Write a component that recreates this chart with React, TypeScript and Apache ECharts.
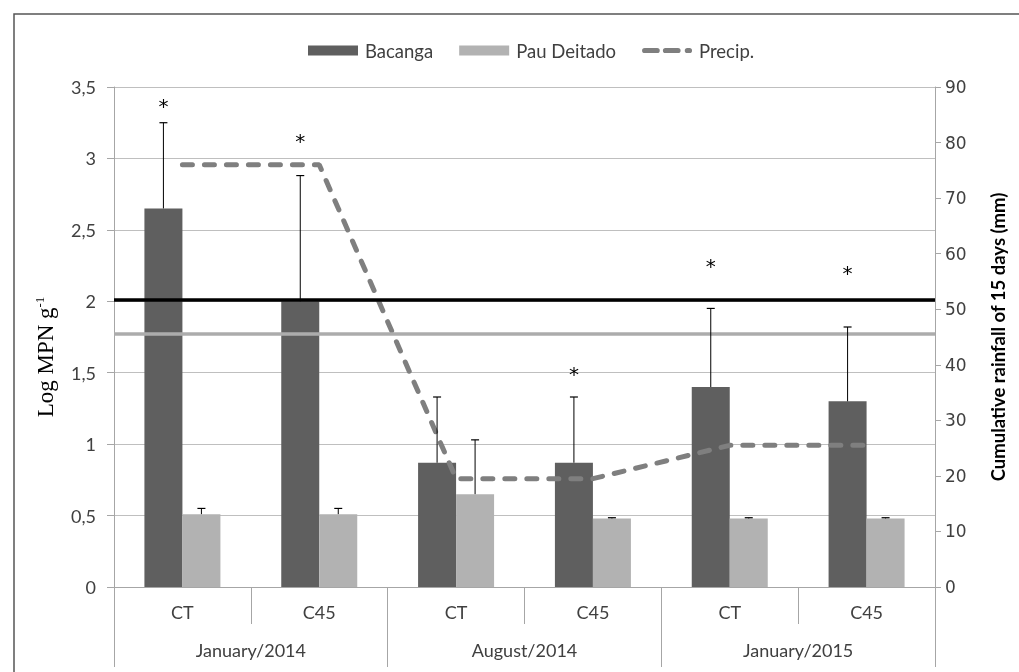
import React, { useEffect, useRef } from "react";
import * as echarts from "echarts";

const categories = ["CT", "C45", "CT", "C45", "CT", "C45"];
const periods = ["January/2014", "August/2014", "January/2015"];
const bacanga = [2.65, 2.0, 0.87, 0.87, 1.4, 1.3];
const bacangaErrTop = [3.25, 2.88, 1.33, 1.33, 1.95, 1.82];
const pauDeitado = [0.51, 0.51, 0.65, 0.48, 0.48, 0.48];
const pauErrTop = [0.55, 0.55, 1.03, 0.485, 0.485, 0.485];
const precip = [76, 76, 19.5, 19.5, 25.5, 25.5];
const significance: (number | null)[] = [3.37, 3.12, null, 1.49, 2.25, 2.2];
const bacangaRef = 2.01;
const pauRef = 1.77;
const leftTicks = { min: 0, max: 3.5, interval: 0.5 };
const rightTicks = { min: 0, max: 90, interval: 10 };

const BAR_W = 38;
const FONT = "Lato";
const DASH_ICON =
  "path://M2.5,0H14.5A2.5,2.5 0 0 1 14.5,5H2.5A2.5,2.5 0 0 1 2.5,0Z" +
  "M22.5,0H34.5A2.5,2.5 0 0 1 34.5,5H22.5A2.5,2.5 0 0 1 22.5,0Z" +
  "M43.5,0H45.5A2.5,2.5 0 0 1 45.5,5H43.5A2.5,2.5 0 0 1 43.5,0Z";

export default function App() {
  const ref = useRef<HTMLDivElement>(null);
  useEffect(() => {
    const chart = echarts.init(ref.current!, null, { renderer: "svg" });

    const errSeries = (name: string, vals: number[], tops: number[], side: number) => ({
      type: "custom",
      name,
      xAxisIndex: 0,
      yAxisIndex: 0,
      z: 5,
      data: vals.map((v, i) => [i, v, tops[i]]),
      renderItem: (params: any, api: any) => {
        const i = api.value(0);
        const p0 = api.coord([i, api.value(1)]);
        const p1 = api.coord([i, api.value(2)]);
        const x = p0[0] + side * BAR_W / 2;
        return {
          type: "group",
          children: [
            { type: "line", shape: { x1: x, y1: p0[1], x2: x, y2: p1[1] }, style: { stroke: "#000", lineWidth: 1 } },
            { type: "line", shape: { x1: x - 4, y1: p1[1], x2: x + 4, y2: p1[1] }, style: { stroke: "#000", lineWidth: 1.2 } },
          ],
        };
      },
    });

    chart.setOption({
      animation: false,
      graphic: [
        {
          type: "rect",
          shape: { x: 14, y: 14, width: 1040, height: 700 },
          style: { fill: "none", stroke: "#555", lineWidth: 1.5 },
          silent: true,
        },
        {
          type: "text",
          x: 45,
          y: 357,
          rotation: Math.PI / 2,
          style: {
            text: "{a|Log MPN g}{b|-1}",
            align: "center",
            verticalAlign: "middle",
            rich: {
              a: { fontFamily: "Liberation Serif", fontSize: 23, fill: "#000" },
              b: { fontFamily: "Liberation Serif", fontSize: 13, fill: "#000", verticalAlign: "top", padding: [0, 0, 12, 0] },
            },
          },
        },
      ],
      legend: {
        top: 36,
        left: 303,
        itemWidth: 50,
        itemHeight: 10,
        itemGap: 26,
        textStyle: { fontFamily: FONT, fontSize: 18.5, color: "#404040", padding: [0, 0, 0, 2] },
        data: [
          { name: "Bacanga", icon: "rect" },
          { name: "Pau Deitado", icon: "rect" },
          { name: "Precip.", icon: DASH_ICON, itemStyle: { color: "#7f7f7f", borderWidth: 0 } },
        ],
      },
      grid: { left: 114, right: 84, top: 87, bottom: 85, containLabel: false },
      xAxis: [
        {
          type: "category",
          data: categories,
          position: "bottom",
          axisLine: { lineStyle: { color: "#a6a6a6" } },
          axisTick: { show: true, length: 37, interval: 0, lineStyle: { color: "#a6a6a6" } },
          axisLabel: { interval: 0, margin: 16, fontFamily: FONT, fontSize: 18, color: "#404040" },
        },
        {
          type: "category",
          data: periods,
          position: "bottom",
          offset: 0,
          axisLine: { show: false },
          axisTick: { show: true, length: 80, interval: 0, lineStyle: { color: "#a6a6a6" } },
          axisLabel: { interval: 0, margin: 54, fontFamily: FONT, fontSize: 18, color: "#404040" },
        },
      ],
      yAxis: [
        {
          type: "value",
          ...leftTicks,
          position: "left",
          axisLine: { show: true, lineStyle: { color: "#a6a6a6" } },
          axisTick: { show: true, length: 7, lineStyle: { color: "#a6a6a6" } },
          splitLine: { show: true, lineStyle: { color: "#bfbfbf" } },
          axisLabel: {
            fontFamily: FONT,
            fontSize: 18,
            color: "#404040",
            margin: 18,
            formatter: (v: number) => String(v).replace(".", ","),
          },
        },
        {
          type: "value",
          ...rightTicks,
          position: "right",
          axisLine: { show: true, lineStyle: { color: "#a6a6a6" } },
          axisTick: { show: true, length: 6, lineStyle: { color: "#a6a6a6" } },
          splitLine: { show: false },
          axisLabel: { fontFamily: "DejaVu Sans", fontSize: 17, color: "#404040", margin: 10 },
          name: "Cumulative rainfall of 15 days (mm)",
          nameLocation: "middle",
          nameRotate: 90,
          nameGap: 53,
          nameTextStyle: { fontFamily: FONT, fontSize: 18.5, fontWeight: "bold", color: "#000" },
        },
      ],
      series: [
        {
          type: "bar",
          name: "Bacanga",
          data: bacanga,
          barWidth: BAR_W,
          barGap: "0%",
          itemStyle: { color: "#5f5f5f" },
          markLine: {
            silent: true,
            symbol: "none",
            label: { show: false },
            lineStyle: { color: "#000", width: 3.5, type: "solid" },
            data: [{ yAxis: bacangaRef }],
          },
        },
        {
          type: "bar",
          name: "Pau Deitado",
          data: pauDeitado,
          barWidth: BAR_W,
          barGap: "0%",
          itemStyle: { color: "#b2b2b2" },
          markLine: {
            silent: true,
            symbol: "none",
            label: { show: false },
            lineStyle: { color: "#acacac", width: 3.5, type: "solid" },
            data: [{ yAxis: pauRef }],
          },
        },
        {
          type: "line",
          name: "Precip.",
          yAxisIndex: 1,
          data: precip,
          symbol: "none",
          z: 4,
          lineStyle: { color: "#7f7f7f", width: 5, type: [10, 12], cap: "round" },
          itemStyle: { color: "#7f7f7f" },
        },
        errSeries("errB", bacanga, bacangaErrTop, -1),
        errSeries("errP", pauDeitado, pauErrTop, 1),
        {
          type: "custom",
          name: "sig",
          xAxisIndex: 0,
          yAxisIndex: 0,
          z: 6,
          data: significance.map((v, i) => [i, v]).filter((d) => d[1] !== null),
          renderItem: (params: any, api: any) => {
            const p = api.coord([api.value(0), api.value(1)]);
            return {
              type: "text",
              style: {
                x: p[0] - BAR_W / 2,
                y: p[1],
                text: "*",
                fontSize: 20,
                fontFamily: "DejaVu Sans",
                fill: "#000",
                align: "center",
                verticalAlign: "middle",
              },
            };
          },
        },
      ],
    });
    return () => chart.dispose();
  }, []);
  return <div ref={ref} style={{ position: "fixed", left: 0, top: 0, width: 1019, height: 672 }} />;
}
